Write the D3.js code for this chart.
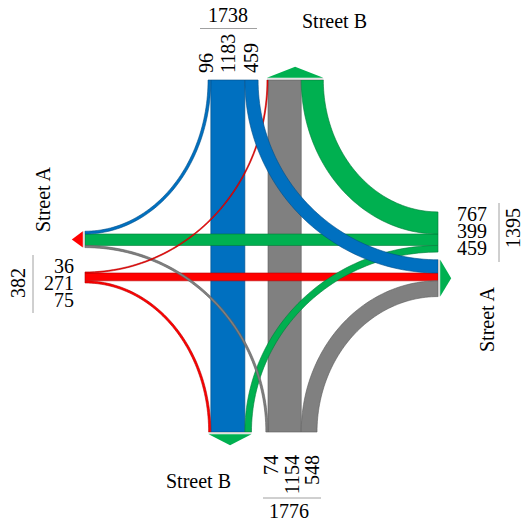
<!DOCTYPE html>
<html><head><meta charset="utf-8">
<script src="https://cdn.jsdelivr.net/npm/d3@7"></script>
<style>html,body{margin:0;padding:0;background:#fff;}svg{display:block;}</style>
</head><body><svg id="c" width="523" height="522"></svg>
<script>
// ---- data ----
const streetNames = ["Street A", "Street B"];
// North approach (southbound): right turn (to W), through, left turn (to E)
const northFlows = [96, 1183, 459];
// South approach (northbound): left turn (to W), through, right turn (to E)
const southFlows = [74, 1154, 548];
// East approach (westbound): right turn (to N), through, left turn (to S) - drawn widths
const eastFlows = [767, 399, 229];
const eastLabels = ["767", "399", "459"];
// West approach (eastbound): left turn (to N), through, right turn (to S)
const westFlows = [36, 271, 75];
// approach totals: North, East, South, West
const approachTotals = [1738, 1395, 1776, 382];

const colors = {N: "#0070C0", E: "#00B050", S: "#808080", W: "#FF0000"};
const arrowColors = {N: "#00B050", E: "#00B050", S: "#00B050", W: "#FF0000"};

// ---- layout ----
const svg = d3.select("#c");
const w = d3.scaleLinear().domain([0, 1000]).range([0, 28.8]);
const X0 = 85, X1 = 438, Y0 = 80, Y1 = 432;
const SBx = 210.8, NBx = 268, WBy = 234, EBy = 273;

const [nR, nT, nL] = northFlows.map(w);
const [sL, sT, sR] = southFlows.map(w);
const [eR, eT, eL] = eastFlows.map(w);
const [wL, wT, wR] = westFlows.map(w);

// segments
const seg = {
  nApp: {R: [SBx - nR, SBx], T: [SBx, SBx + nT], L: [SBx + nT, SBx + nT + nL]},
  sExit: {W: [SBx - wR, SBx], N: [SBx, SBx + nT], E: [SBx + nT, SBx + nT + eL]},
  nExit: {W: [NBx - wL, NBx], S: [NBx, NBx + sT], E: [NBx + sT, NBx + sT + eR]},
  sApp: {L: [NBx - sL, NBx], T: [NBx, NBx + sT], R: [NBx + sT, NBx + sT + sR]},
  eApp: {R: [WBy - eR, WBy], T: [WBy, WBy + eT], L: [WBy + eT, WBy + eT + eL]},
  wExit: {N: [WBy - nR, WBy], E: [WBy, WBy + eT], S: [WBy + eT, WBy + eT + sL]},
  wApp: {L: [EBy - wL, EBy], T: [EBy, EBy + wT], R: [EBy + wT, EBy + wT + wR]},
  eExit: {N: [EBy - nL, EBy], W: [EBy, EBy + wT], S: [EBy + wT, EBy + wT + sR]}
};

const line = d3.line();
function ribbon(cx, cy, xr, yr) {
  const sx = Math.sign(xr[0] - cx), sy = Math.sign(yr[0] - cy);
  const dx = xr.map(x => Math.abs(x - cx)), dy = yr.map(y => Math.abs(y - cy));
  const rxi = d3.min(dx), rxo = d3.max(dx), ryi = d3.min(dy), ryo = d3.max(dy);
  const ts = d3.range(0, 61).map(i => i / 60 * Math.PI / 2);
  const outer = ts.map(t => [cx + sx * rxo * Math.cos(t), cy + sy * ryo * Math.sin(t)]);
  const inner = ts.slice().reverse().map(t => [cx + sx * rxi * Math.cos(t), cy + sy * ryi * Math.sin(t)]);
  return line(outer.concat(inner)) + "Z";
}
function vbar(xr) { return `M${xr[0]},${Y0}H${xr[1]}V${Y1}H${xr[0]}Z`; }
function hbar(yr) { return `M${X0},${yr[0]}H${X1}V${yr[1]}H${X0}Z`; }

const g = svg.append("g");
function draw(d, c) {
  g.append("path").attr("d", d).attr("fill", c)
    .attr("stroke", d3.color(c).darker(1)).attr("stroke-width", 0.6);
}
// straights
draw(vbar(seg.nApp.T), colors.N);
draw(vbar(seg.sApp.T), colors.S);
draw(hbar(seg.eApp.T), colors.E);
draw(hbar(seg.wApp.T), colors.W);
// turns
draw(ribbon(X1, Y0, seg.nExit.E, seg.eApp.R), colors.E);     // E -> N
draw(ribbon(X0, Y0, seg.nApp.R, seg.wExit.N), colors.N);     // N -> W
draw(ribbon(X0, Y1, seg.sExit.W, seg.wApp.R), colors.W);     // W -> S
draw(ribbon(X1, Y1, seg.sApp.R, seg.eExit.S), colors.S);     // S -> E
draw(ribbon(X1, Y1, seg.sExit.E, seg.eApp.L), colors.E);     // E -> S
draw(ribbon(X0, Y1, seg.sApp.L, seg.wExit.S), colors.S);     // S -> W
draw(ribbon(X0, Y0, seg.nExit.W, seg.wApp.L), colors.W);     // W -> N
draw(ribbon(X1, Y0, seg.nApp.L, seg.eExit.N), colors.N);     // N -> E

// exit caps and arrows
const capC = "#c8c8c8";
const nx = [seg.nExit.W[0], seg.nExit.E[1]];
const sx = [seg.sExit.W[0], seg.sExit.E[1]];
const ey = [seg.eExit.N[0], seg.eExit.S[1]];
const wy = [seg.wExit.N[0], seg.wExit.S[1]];
const caps = [
  [[nx[0], Y0 - 0.8], [nx[1], Y0 - 0.8]],
  [[sx[0], Y1 + 0.8], [sx[1], Y1 + 0.8]],
  [[X1 + 0.8, ey[0]], [X1 + 0.8, ey[1]]],
  [[X0 - 0.8, wy[0]], [X0 - 0.8, wy[1]]]
];
caps.forEach(c => g.append("path").attr("d", line(c)).attr("stroke", capC).attr("stroke-width", 1.6));
const AH = 11, AG = 2.2;
const arrows = [
  {p: [[nx[0], Y0 - AG], [(nx[0] + nx[1]) / 2, Y0 - AG - AH], [nx[1], Y0 - AG]], c: arrowColors.N},
  {p: [[sx[0], Y1 + AG], [(sx[0] + sx[1]) / 2, Y1 + AG + AH], [sx[1], Y1 + AG]], c: arrowColors.S},
  {p: [[X1 + AG, ey[0]], [X1 + AG + AH, (ey[0] + ey[1]) / 2], [X1 + AG, ey[1]]], c: arrowColors.E},
  {p: [[X0 - AG, wy[0]], [X0 - AG - AH, (wy[0] + wy[1]) / 2], [X0 - AG, wy[1]]], c: arrowColors.W}
];
arrows.forEach(a => g.append("path").attr("d", line(a.p) + "Z").attr("fill", a.c));

// ---- text ----
const font = "'Liberation Serif','Times New Roman',serif";
const T = svg.append("g").attr("font-family", font).attr("font-size", 20).attr("fill", "#000");
function txt(x, y, s, anchor, rot) {
  T.append("text").attr("transform", `translate(${x},${y})` + (rot ? ` rotate(${rot})` : ""))
    .attr("text-anchor", anchor || "start").text(s);
}
function rule(x1, y1, x2, y2) {
  svg.append("line").attr("x1", x1).attr("y1", y1).attr("x2", x2).attr("y2", y2)
    .attr("stroke", "#a0a0a0").attr("stroke-width", 1);
}
// north
txt(228, 22, String(approachTotals[0]), "middle");
rule(200, 28.5, 257, 28.5);
[213, 235, 258].forEach((x, i) => txt(x, 73, String(northFlows[i]), "start", -90));
txt(302, 28, streetNames[1], "start");
// west
txt(50, 232, streetNames[0], "start", -90);
txt(25, 283, String(approachTotals[3]), "middle", -90);
rule(33, 255, 33, 313);
[273, 290, 307].forEach((y, i) => txt(74, y, String(westFlows[i]), "end"));
// east
[221, 238, 255].forEach((y, i) => txt(457, y, eastLabels[i], "start"));
rule(499, 203, 499, 262);
txt(519.5, 228, String(approachTotals[1]), "middle", -90);
txt(494, 352, streetNames[0], "start", -90);
// south
[278, 298.5, 319].forEach((x, i) => txt(x, 455, String(southFlows[i]), "end", -90));
rule(263, 498, 321, 498);
txt(289, 518, String(approachTotals[2]), "middle");
txt(166, 488, streetNames[1], "start");
</script></body></html>
